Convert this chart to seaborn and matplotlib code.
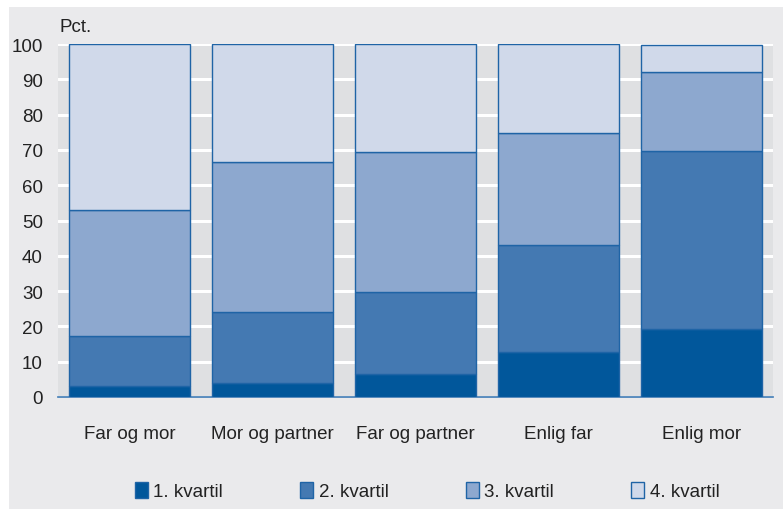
import matplotlib
matplotlib.use("Agg")
from matplotlib import pyplot as plt
from matplotlib.patches import Rectangle, Patch
import numpy as np
import pandas as pd
import seaborn as sns

# Data (percent per quartile)
categories = ["Far og mor", "Mor og partner", "Far og partner", "Enlig far", "Enlig mor"]
quartile_names = ["1. kvartil", "2. kvartil", "3. kvartil", "4. kvartil"]
q1 = [3.2, 4.1, 6.5, 12.7, 19.2]
q2 = [14.1, 20.0, 23.2, 30.5, 50.4]
q3 = [35.6, 42.5, 39.6, 31.7, 22.6]
q4 = [47.1, 33.4, 30.7, 25.1, 7.5]

colors = ["#01579B", "#4479B2", "#8DA8CF", "#D0D9EA"]
edge = "#1F64A6"

sns.set_style("white")
plt.rcParams["font.family"] = ["Liberation Sans", "DejaVu Sans"]

fig = plt.figure(figsize=(7.83, 5.10), dpi=100, facecolor="white")
# light gray panel behind everything (white strip top/left as in reference)
fig.patches.append(Rectangle((9 / 783, 0), 1, 1 - 8 / 510, transform=fig.transFigure,
                             facecolor="#EAEAEC", edgecolor="none", zorder=-10))

ax = fig.add_axes([58 / 783, 1 - 398 / 510, (773 - 58) / 783, (398 - 45) / 510])
ax.set_facecolor("#DFE0E2")

df = pd.DataFrame({"cat": categories, "q1": q1, "q2": q2, "q3": q3, "q4": q4})
bottom = np.zeros(len(categories))
for col, c in zip(["q1", "q2", "q3", "q4"], colors):
    sns.barplot(data=df, x="cat", y=col, ax=ax, color=c, bottom=bottom,
                width=0.84, edgecolor=edge, linewidth=1.0, saturation=1, zorder=3)
    bottom = bottom + df[col].values

ax.set_xlim(-0.5, len(categories) - 0.5)
ax.set_ylim(0, 100)
ax.set_yticks(range(0, 101, 10))
ax.yaxis.grid(True, color="white", linewidth=2.2, zorder=0)
ax.set_axisbelow(True)
ax.set_xlabel("")
ax.set_ylabel("")
for s in ["top", "right", "left"]:
    ax.spines[s].set_visible(False)
ax.spines["bottom"].set_color("#3F7BB5")
ax.spines["bottom"].set_linewidth(1.2)
ax.tick_params(axis="both", length=0, labelsize=13.5, colors="#222222")
ax.tick_params(axis="x", pad=20)
ax.tick_params(axis="y", pad=11)

fig.text(60 / 783, 1 - 27 / 510, "Pct.", fontsize=13.5, color="#222222", va="center")

handles = [Patch(facecolor=c, edgecolor=edge, linewidth=1.0) for c in colors]
fig.legend(handles, quartile_names, loc="center", bbox_to_anchor=(427 / 783, 1 - 492 / 510),
           ncol=4, frameon=False, fontsize=13.5, handlelength=0.7, handleheight=1.0,
           handletextpad=0.3, columnspacing=4.1, labelcolor="#222222")

fig.savefig("out.png", dpi=100, facecolor=fig.get_facecolor())
